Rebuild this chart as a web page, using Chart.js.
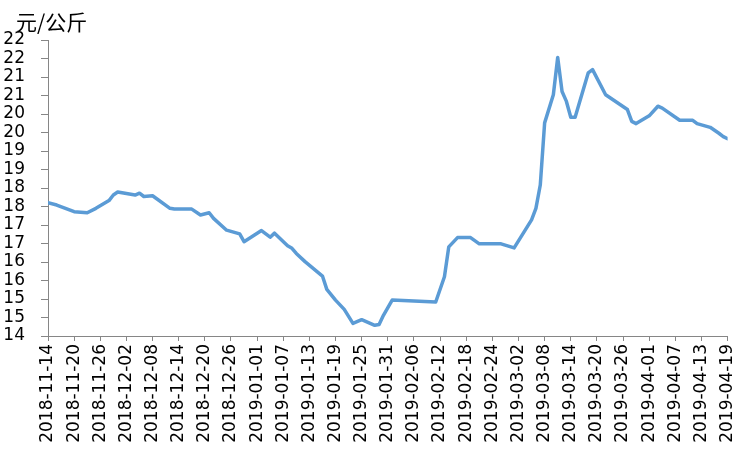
<!DOCTYPE html>
<html>
<head>
<meta charset="utf-8">
<script src="https://cdn.jsdelivr.net/npm/chart.js@4.4.1/dist/chart.umd.min.js"></script>
<style>
  html, body { margin: 0; padding: 0; background: #fff; }
  #wrap { width: 751px; height: 451px; }
</style>
</head>
<body>
<div id="wrap"><canvas id="lineChart" width="751" height="451"></canvas></div>
<script>
// Day offsets from 2018-11-14 and the price read at each one (元/公斤)
const days = [0, 2, 6, 9, 11, 14, 15, 16, 20, 21, 22, 24, 28, 29, 33, 35, 37, 38, 41, 44,
    45, 49, 51, 52, 55, 56, 57, 59, 63, 64, 66, 68, 70, 72, 75, 76, 77, 79, 89, 91,
    92, 94, 97, 99, 104, 107, 111, 112, 113, 114, 116, 117, 118, 119, 120, 121, 124, 125, 128, 133,
    134, 135, 138, 140, 141, 145, 148, 149, 152, 154, 155, 156];
const prices = [17.60, 17.54, 17.36, 17.33, 17.45, 17.66, 17.81, 17.89, 17.81, 17.86, 17.77, 17.79, 17.45, 17.43, 17.43, 17.27, 17.33, 17.18, 16.86, 16.76,
    16.55, 16.85, 16.67, 16.78, 16.44, 16.37, 16.23, 16.01, 15.62, 15.26, 14.97, 14.72, 14.34, 14.44, 14.29, 14.31, 14.56, 14.97, 14.92, 15.60,
    16.41, 16.66, 16.66, 16.49, 16.49, 16.38, 17.14, 17.45, 18.08, 19.76, 20.52, 21.53, 20.61, 20.34, 19.91, 19.91, 21.11, 21.20, 20.52, 20.12,
    19.80, 19.74, 19.95, 20.21, 20.16, 19.83, 19.83, 19.74, 19.64, 19.48, 19.39, 19.33];

// One label every 6 days
const tickLabels = ['2018-11-14', '2018-11-20', '2018-11-26', '2018-12-02', '2018-12-08', '2018-12-14',
    '2018-12-20', '2018-12-26', '2019-01-01', '2019-01-07', '2019-01-13', '2019-01-19', '2019-01-25',
    '2019-01-31', '2019-02-06', '2019-02-12', '2019-02-18', '2019-02-24', '2019-03-02', '2019-03-08',
    '2019-03-14', '2019-03-20', '2019-03-26', '2019-04-01', '2019-04-07', '2019-04-13', '2019-04-19'];

// Y ticks every 0.5, labels rounded to whole numbers like the source
const yTicks = [14, 14.5, 15, 15.5, 16, 16.5, 17, 17.5, 18, 18.5, 19, 19.5, 20, 20.5, 21, 21.5, 22];

const unitLabel = '元/公斤';
const axisColor = '#868686';

Chart.defaults.font.family = "'DejaVu Sans', sans-serif";
Chart.defaults.font.size = 17;
Chart.defaults.color = '#000';

// Unit text in the top-left corner
const unitPlugin = {
    id: 'unitText',
    afterDraw(chart) {
        const ctx = chart.ctx;
        ctx.save();
        ctx.font = "21px 'Noto Sans CJK SC'";
        ctx.fillStyle = '#000';
        ctx.textBaseline = 'middle';
        ctx.textAlign = 'left';
        ctx.fillText(unitLabel, 16, 22);
        ctx.restore();
    }
};

const ctx = document.getElementById('lineChart').getContext('2d');
new Chart(ctx, {
    type: 'line',
    data: {
        datasets: [{
            data: days.map((d, i) => ({ x: d, y: prices[i] })),
            borderColor: '#5B9BD5',
            borderWidth: 3.5,
            borderJoinStyle: 'round',
            borderCapStyle: 'round',
            pointRadius: 0,
            tension: 0,
            fill: false
        }]
    },
    options: {
        responsive: false,
        animation: false,
        layout: { padding: { left: 0, top: 40, right: 11, bottom: 0 } },
        plugins: {
            legend: { display: false },
            tooltip: { enabled: false }
        },
        scales: {
            x: {
                type: 'linear',
                min: 0,
                max: 156,
                afterFit: (scale) => { scale.height = 115; },
                afterBuildTicks: (scale) => {
                    scale.ticks = tickLabels.map((_, i) => ({ value: i * 6 }));
                },
                grid: { drawOnChartArea: false, drawTicks: true, tickLength: 5, color: axisColor },
                border: { display: true, color: axisColor, width: 1 },
                ticks: {
                    autoSkip: false,
                    maxRotation: 90,
                    minRotation: 90,
                    padding: 3,
                    callback: (v) => tickLabels[Math.round(v / 6)]
                }
            },
            y: {
                min: 14,
                max: 22,
                afterFit: (scale) => { scale.width = 48; },
                afterBuildTicks: (scale) => {
                    scale.ticks = yTicks.map(v => ({ value: v }));
                },
                grid: { drawOnChartArea: false, drawTicks: true, tickLength: 7, color: axisColor },
                border: { display: true, color: axisColor, width: 1 },
                ticks: {
                    autoSkip: false,
                    padding: 16,
                    callback: (v) => Math.round(v)
                }
            }
        }
    },
    plugins: [unitPlugin]
});
</script>
</body>
</html>
